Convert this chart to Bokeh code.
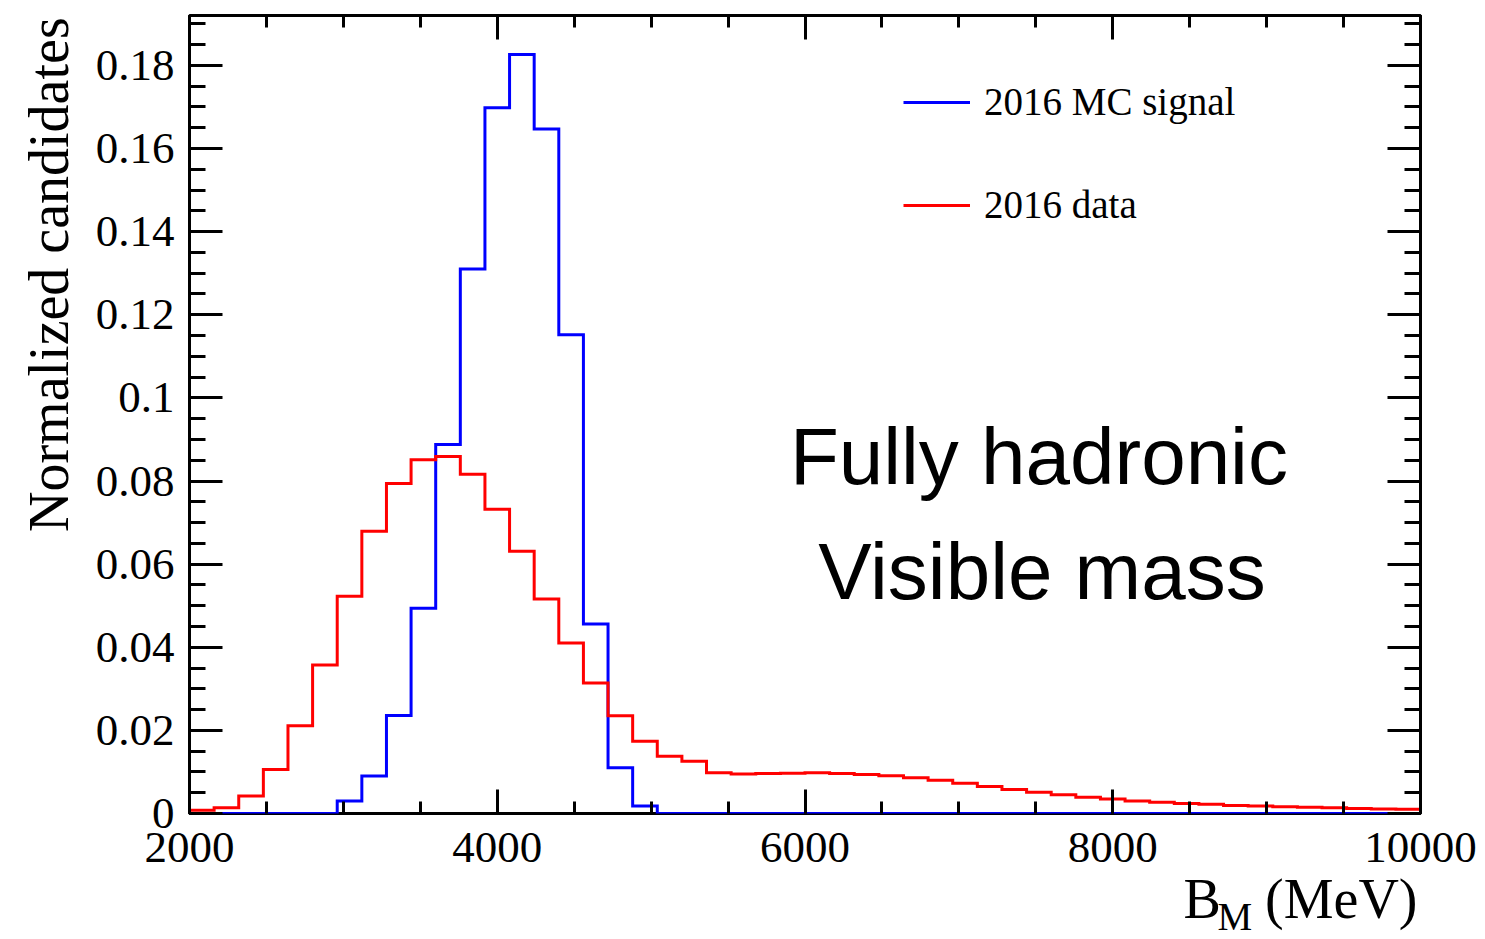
import math
import numpy as np
from bokeh.plotting import figure
from bokeh.layouts import row, column
from bokeh.models import (Range1d, LinearAxis, SingleIntervalTicker, CustomJSTickFormatter,
                          Label, Legend, LegendItem)
from bokeh.embed import file_html
from bokeh.resources import INLINE

# Histogram binning (B_M in MeV)
bin_lo = 2000
bin_hi = 10000
n_bins = 50

# Normalized candidates per bin, 2016 MC signal
mc_signal = [0.0, 0.0, 0.0, 0.0, 0.0, 0.0, 0.0030, 0.0090, 0.0236, 0.0494,
             0.0888, 0.1310, 0.1698, 0.1826, 0.1647, 0.1152, 0.0456, 0.0110, 0.0018, 0.0,
             0.0, 0.0, 0.0, 0.0, 0.0, 0.0, 0.0, 0.0, 0.0, 0.0,
             0.0, 0.0, 0.0, 0.0, 0.0, 0.0, 0.0, 0.0, 0.0, 0.0,
             0.0, 0.0, 0.0, 0.0, 0.0, 0.0, 0.0, 0.0, 0.0, 0.0]

# Normalized candidates per bin, 2016 data
data_2016 = [0.0008, 0.0014, 0.0042, 0.0106, 0.0211, 0.0357, 0.0523, 0.0679, 0.0794, 0.0851,
             0.0859, 0.0816, 0.0732, 0.0631, 0.0516, 0.0410, 0.0314, 0.0235, 0.0174, 0.0138,
             0.0126, 0.0098, 0.0095, 0.0096, 0.0097, 0.0098, 0.0096, 0.0094, 0.0091, 0.0086,
             0.0080, 0.0073, 0.0065, 0.0058, 0.0051, 0.0045, 0.0039, 0.0035, 0.0030, 0.0027,
             0.0024, 0.0022, 0.0019, 0.0018, 0.0016, 0.0015, 0.0014, 0.0012, 0.0011, 0.0010]

legend_labels = ["2016 MC signal", "2016 data"]
y_max = 0.192

SERIF = "Liberation Serif"
SANS = "Liberation Sans"

# overall page geometry
W, H = 1485, 939
YT_W = 80          # strip holding the y-axis title
XT_H = 59          # visible height below the main figure for the x-axis title
XT_OVER = 25       # x-title strip reaches up behind the tick-label band
MAIN_W = W - YT_W
MAIN_H = H - XT_H

edges = np.linspace(bin_lo, bin_hi, n_bins + 1)

p = figure(width=MAIN_W, height=MAIN_H, output_backend="svg", toolbar_location=None,
           x_range=Range1d(bin_lo, bin_hi), y_range=Range1d(0, y_max),
           min_border_left=189 - YT_W, min_border_right=65, min_border_top=15,
           min_border_bottom=MAIN_H - 813)
p.xgrid.visible = False
p.ygrid.visible = False
p.background_fill_color = "white"
p.border_fill_color = "white"
p.outline_line_color = "black"
p.outline_line_width = 3
p.outline_line_alpha = 1.0

x_ticker = SingleIntervalTicker(interval=2000, num_minor_ticks=4)
y_ticker = SingleIntervalTicker(interval=0.02, num_minor_ticks=4)
y_fmt = CustomJSTickFormatter(code="return String(Math.round(tick*1000)/1000);")
blank_fmt = CustomJSTickFormatter(code="return '';")


def style_axis(ax, major_len, minor_len):
    ax.axis_line_color = None
    ax.major_tick_in = major_len
    ax.major_tick_out = 0
    ax.minor_tick_in = minor_len
    ax.minor_tick_out = 0
    ax.major_tick_line_width = 3
    ax.minor_tick_line_width = 3
    ax.major_tick_line_color = "black"
    ax.minor_tick_line_color = "black"


# bottom / left axes with labels
xa = p.xaxis[0]
xa.ticker = x_ticker
style_axis(xa, 24, 12)
xa.major_label_text_font = SERIF
xa.major_label_text_font_size = "45px"
xa.major_label_text_color = "black"
xa.major_label_standoff = 19

ya = p.yaxis[0]
ya.ticker = y_ticker
ya.formatter = y_fmt
style_axis(ya, 33, 16)
ya.major_label_text_font = SERIF
ya.major_label_text_font_size = "45px"
ya.major_label_text_color = "black"
ya.major_label_standoff = 15

# mirrored tick axes on top / right
top_ax = LinearAxis(ticker=x_ticker, formatter=blank_fmt,
                    major_label_text_font_size="1px", major_label_standoff=0)
style_axis(top_ax, 24, 12)
p.add_layout(top_ax, "above")

right_ax = LinearAxis(ticker=y_ticker, formatter=blank_fmt,
                      major_label_text_font_size="1px", major_label_standoff=0)
style_axis(right_ax, 33, 16)
p.add_layout(right_ax, "right")

# histograms
r_mc = p.step(x=list(edges), y=mc_signal + [mc_signal[-1]], mode="after",
              line_color="#0000ff", line_width=3, line_join="miter")
r_data = p.step(x=list(edges), y=data_2016 + [data_2016[-1]], mode="after",
                line_color="#ff0000", line_width=3, line_join="miter")

legend = Legend(items=[LegendItem(label=legend_labels[0], renderers=[r_mc]),
                       LegendItem(label=legend_labels[1], renderers=[r_data])],
                location=(714, 586), orientation="vertical",
                label_text_font=SERIF, label_text_font_size="39px", label_text_color="black",
                glyph_width=67, glyph_height=42, label_height=42, label_standoff=14,
                spacing=58, padding=0, margin=0,
                border_line_color=None, background_fill_alpha=0)
p.add_layout(legend, "center")

# annotation text inside the frame
p.add_layout(Label(x=7520, y=0.0859, text="Fully hadronic", text_font=SANS,
                   text_font_size="80px", text_align="center", text_baseline="alphabetic",
                   text_color="black"))
p.add_layout(Label(x=7540, y=0.0582, text="Visible mass", text_font=SANS,
                   text_font_size="80px", text_align="center", text_baseline="alphabetic",
                   text_color="black"))


def title_strip(w, h, **kw):
    f = figure(width=w, height=h, output_backend="svg", toolbar_location=None,
               x_range=Range1d(0, w), y_range=Range1d(h, 0),
               x_axis_location=None, y_axis_location=None,
               min_border_left=0, min_border_right=0, min_border_top=0, min_border_bottom=0,
               **kw)
    f.xgrid.visible = False
    f.ygrid.visible = False
    f.outline_line_color = None
    f.background_fill_alpha = 0
    f.border_fill_alpha = 0
    return f


# y-axis title
yt = title_strip(YT_W, MAIN_H)
yt.add_layout(Label(x=48, y=2, text="Normalized candidates", angle=math.pi / 2,
                    text_font=SERIF, text_font_size="56px", text_align="right",
                    text_baseline="alphabetic", text_color="black"))

# x-axis title: B_M (MeV); the strip overlaps the tick-label band with a transparent fill
xt = title_strip(W, XT_H + XT_OVER, margin=(-XT_OVER, 0, 0, 0))
xt.add_layout(Label(x=1183, y=18 + XT_OVER, text="B", text_font=SERIF, text_font_size="56px",
                    text_align="left", text_baseline="alphabetic", text_color="black"))
xt.add_layout(Label(x=1217, y=36 + XT_OVER, text="M", text_font=SERIF, text_font_size="39px",
                    text_align="left", text_baseline="alphabetic", text_color="black"))
xt.add_layout(Label(x=1417, y=18 + XT_OVER, text="(MeV)", text_font=SERIF, text_font_size="56px",
                    text_align="right", text_baseline="alphabetic", text_color="black"))

layout = column(row(yt, p, spacing=0), xt, spacing=0)

open("out.html", "w").write(file_html(layout, INLINE))
